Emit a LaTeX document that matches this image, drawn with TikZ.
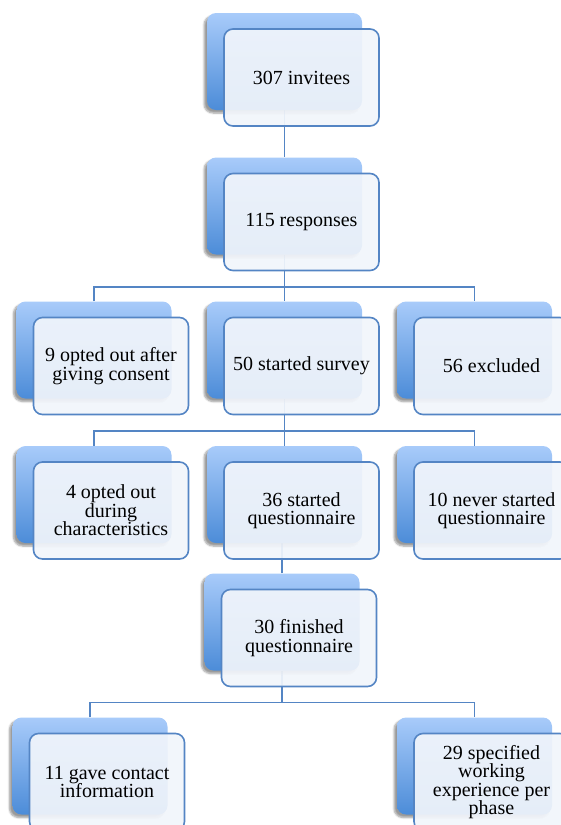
\documentclass[tikz,border=0pt]{standalone}
\usepackage{fontspec}
\setmainfont{Liberation Serif}
\usetikzlibrary{shadows.blur,backgrounds}
\definecolor{boxtop}{RGB}{168,203,250}
\definecolor{boxbot}{RGB}{76,140,216}
\definecolor{boxline}{RGB}{84,133,196}
\definecolor{boxfill}{RGB}{241,245,251}

\begin{document}
\begin{tikzpicture}[x=1pt,y=-1pt,
	back/.style={rounded corners=9pt,minimum width=155pt,minimum height=97pt,inner sep=0pt,
		top color=boxtop,bottom color=boxbot,
		blur shadow={shadow xshift=-3pt,shadow yshift=-3pt,shadow opacity=40,shadow blur steps=6}},
	front/.style={draw=boxline,line width=1.6pt,rounded corners=9pt,minimum width=155pt,minimum height=97pt,
		inner sep=0pt,fill=boxfill,fill opacity=0.93,text opacity=1,align=center,
		font=\fontsize{20}{18.5}\selectfont},
	link/.style={draw=boxline,line width=1.8pt}]
	\useasboundingbox (0,0) rectangle (560,825);

	\node[back] (r1) at (284.5,61.5) {};
	\node[front] (t1) at ([xshift=17pt,yshift=-16pt]r1.center) {307 invitees};
	\node[back] (r2) at (284.5,206) {};
	\node[front] (t2) at ([xshift=17pt,yshift=-16pt]r2.center) {115 responses};

	\node[back] (r3a) at (94,350) {};
	\node[front] (t3a) at ([xshift=17pt,yshift=-16pt]r3a.center) {9 opted out after\\giving consent};
	\node[back] (r3b) at (284.5,350) {};
	\node[front] (t3b) at ([xshift=17pt,yshift=-16pt]r3b.center) {50 started survey};
	\node[back] (r3c) at (474.5,350) {};
	\node[front] (t3c) at ([xshift=17pt,yshift=-16pt]r3c.center) {56 excluded};

	\node[back] (r4a) at (94,494.5) {};
	\node[front] (t4a) at ([xshift=17pt,yshift=-16pt]r4a.center) {4 opted out\\during\\characteristics};
	\node[back] (r4b) at (284.5,494.5) {};
	\node[front] (t4b) at ([xshift=17pt,yshift=-16pt]r4b.center) {36 started\\questionnaire};
	\node[back] (r4c) at (474.5,494.5) {};
	\node[front] (t4c) at ([xshift=17pt,yshift=-16pt]r4c.center) {10 never started\\questionnaire};

	\node[back] (r5) at (282,622) {};
	\node[front] (t5) at ([xshift=17pt,yshift=-16pt]r5.center) {30 finished\\questionnaire};

	\node[back] (r6a) at (90,766) {};
	\node[front] (t6a) at ([xshift=17pt,yshift=-16pt]r6a.center) {11 gave contact\\information};
	\node[back] (r6b) at (474.5,766) {};
	\node[front] (t6b) at ([xshift=17pt,yshift=-16pt]r6b.center) {29 specified\\working\\experience per\\phase};

	\coordinate (j3) at (284.5,287);
	\coordinate (j4) at (284.5,431);
	\coordinate (j6) at (282,702.5);

	\begin{pgfonlayer}{background}
	\draw[link] (r1.south) -- (r2.north);
	\draw[link] (r2.south) -- (j3);
	\draw[link] (r3a.north) |- (j3) -| (r3c.north);
	\draw[link] (j3) -- (r3b.north);
	\draw[link] (r3b.south) -- (j4);
	\draw[link] (r4a.north) |- (j4) -| (r4c.north);
	\draw[link] (j4) -- (r4b.north);
	\draw[link] (r5.north) -- (r5.north |- r4b.south);
	\draw[link] (r5.south) -- (j6);
	\draw[link] (r6a.north) |- (j6) -| (r6b.north);
	\end{pgfonlayer}
\end{tikzpicture}
\end{document}
